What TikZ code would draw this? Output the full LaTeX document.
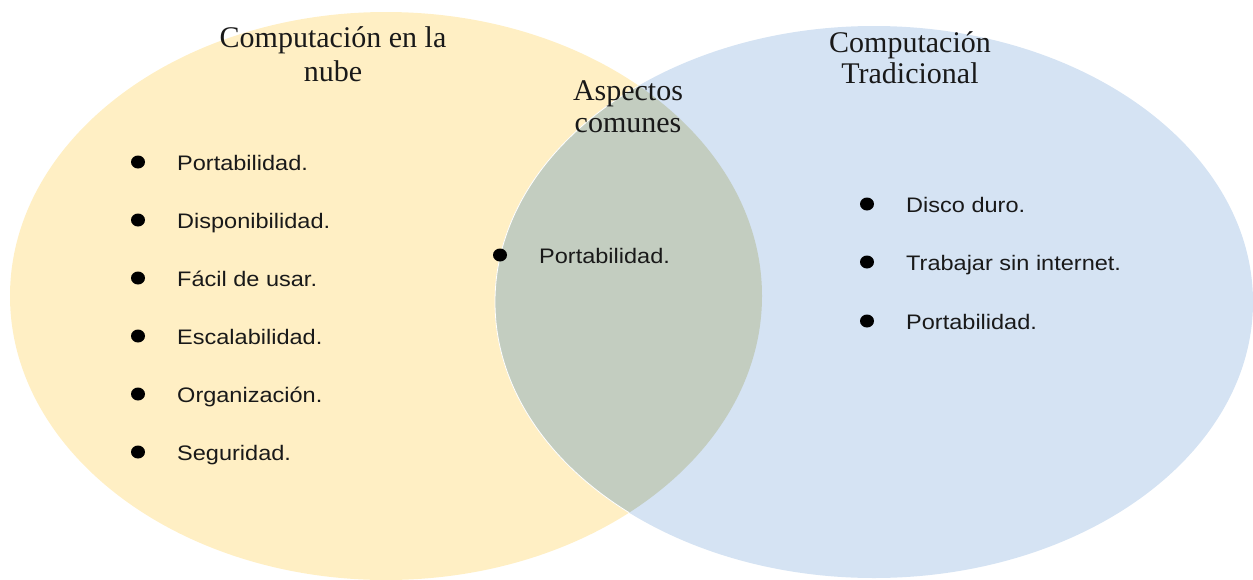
\documentclass[tikz,border=0pt]{standalone}
\usepackage{fontspec}
\setmainfont{Liberation Serif}
\newfontfamily\itemfont[FakeStretch=1.12]{Liberation Sans}
\definecolor{cloudyel}{RGB}{255,239,196}
\definecolor{tradblue}{RGB}{213,227,243}
\definecolor{commongr}{RGB}{195,205,192}
\definecolor{inkc}{RGB}{25,25,25}
\tikzset{
  titletext/.style={font=\fontsize{30}{34}\selectfont, text=inkc, inner sep=0pt, anchor=base},
  itemtext/.style={font=\itemfont\fontsize{21}{24}\selectfont, text=inkc, inner sep=0pt, anchor=base west},
  bulletdot/.style={ellipse, fill=black, inner sep=0pt, minimum width=14pt, minimum height=13pt}
}
\usetikzlibrary{shapes.geometric}
\begin{document}
\begin{tikzpicture}[x=1pt,y=-1pt]
\useasboundingbox (0,0) rectangle (1253,579);
% sets
\fill[cloudyel] (386,296) ellipse [x radius=376pt, y radius=284pt];
\fill[tradblue] (874,302) ellipse [x radius=379pt, y radius=276pt];
\begin{scope}
  \clip (386,296) ellipse [x radius=376pt, y radius=284pt];
  \fill[commongr] (874,302) ellipse [x radius=379pt, y radius=276pt];
  \draw[white, line width=0.8pt] (874,302) ellipse [x radius=379pt, y radius=276pt];
\end{scope}
% titles
\node[titletext] (t1a) at (333,47) {Computación en la};
\node[titletext] (t1b) at (333,81) {nube};
\node[titletext] (t2a) at (910,52) {Computación};
\node[titletext] (t2b) at (910,83) {Tradicional};
\node[titletext] (t3a) at (628,100) {Aspectos};
\node[titletext] (t3b) at (628,132) {comunes};
% left items
\node[bulletdot] (l1) at (138,162) {};
\node[bulletdot] (l2) at (138,220) {};
\node[bulletdot] (l3) at (138,278) {};
\node[bulletdot] (l4) at (138,336) {};
\node[bulletdot] (l5) at (138,394) {};
\node[bulletdot] (l6) at (138,452) {};
\node[itemtext] (lt1) at (177,170) {Portabilidad.};
\node[itemtext] (lt2) at (177,228) {Disponibilidad.};
\node[itemtext] (lt3) at (177,286) {Fácil de usar.};
\node[itemtext] (lt4) at (177,344) {Escalabilidad.};
\node[itemtext] (lt5) at (177,402) {Organización.};
\node[itemtext] (lt6) at (177,460) {Seguridad.};
% common items
\node[bulletdot] (c1) at (500,255) {};
\node[itemtext] (ct1) at (539,263) {Portabilidad.};
% right items
\node[bulletdot] (r1) at (867,204) {};
\node[bulletdot] (r2) at (867,262) {};
\node[bulletdot] (r3) at (867,321) {};
\node[itemtext] (rt1) at (906,212) {Disco duro.};
\node[itemtext] (rt2) at (906,270) {Trabajar sin internet.};
\node[itemtext] (rt3) at (906,329) {Portabilidad.};
\end{tikzpicture}
\end{document}
